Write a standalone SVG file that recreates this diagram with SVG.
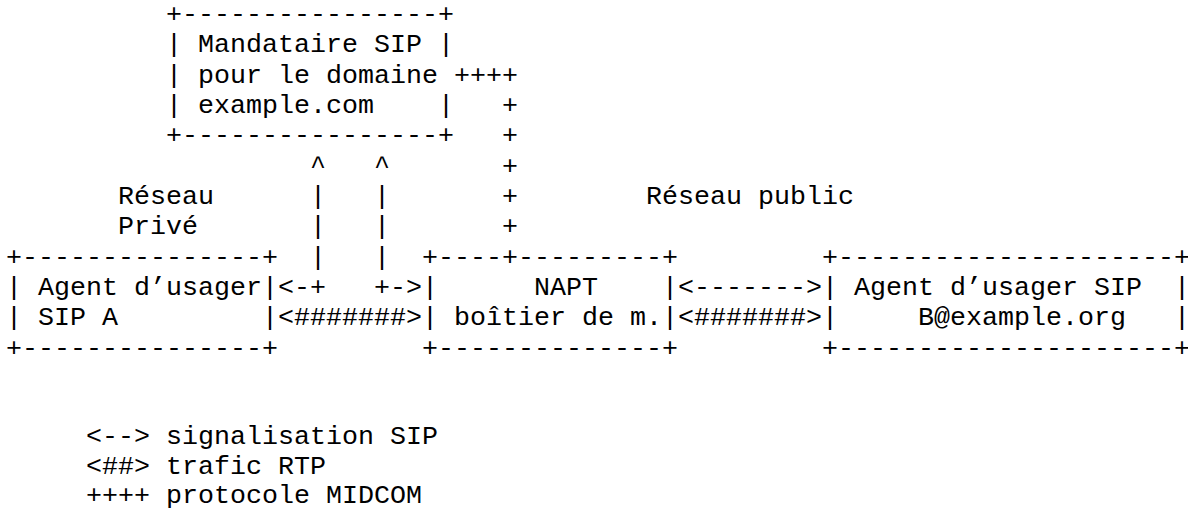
<svg xmlns="http://www.w3.org/2000/svg" width="1188" height="509" viewBox="0 0 1188 509" xml:space="preserve">
<style>
text { font-family: "Liberation Mono", "Courier New", monospace; font-size: 26.67px; fill: #000; white-space: pre; }
</style>
<rect width="1188" height="509" fill="#fff"/>
<g id="proxy">
<text x="166" y="22">+----------------+</text>
<text x="166" y="52.3">| Mandataire SIP |</text>
<text x="166" y="82.7">| pour le domaine</text>
<text x="166" y="113">| example.com    |</text>
<text x="166" y="143.3">+----------------+</text>
</g>
<g id="ua-a">
<text x="6" y="264.6">+---------------+</text>
<text x="6" y="295">| Agent d’usager|</text>
<text x="6" y="325.3">| SIP A         |</text>
<text x="6" y="355.6">+---------------+</text>
</g>
<g id="napt">
<text x="422" y="264.6">+----+---------+</text>
<text x="422" y="295">|      NAPT    |</text>
<text x="422" y="325.3">| boîtier de m.|</text>
<text x="422" y="355.6">+--------------+</text>
</g>
<g id="ua-b">
<text x="822" y="264.6">+---------------------+</text>
<text x="822" y="295">| Agent d’usager SIP  |</text>
<text x="822" y="325.3">|     B@example.org   |</text>
<text x="822" y="355.6">+---------------------+</text>
</g>
<g id="connectors">
<text x="454" y="82.7">++++</text>
<text x="502" y="113">+</text>
<text x="502" y="143.3">+</text>
<text x="502" y="173.7">+</text>
<text x="502" y="204">+</text>
<text x="502" y="234.3">+</text>
<text x="310" y="173.7">^</text>
<text x="374" y="173.7">^</text>
<text x="310" y="204">|</text>
<text x="374" y="204">|</text>
<text x="310" y="234.3">|</text>
<text x="374" y="234.3">|</text>
<text x="310" y="264.6">|</text>
<text x="374" y="264.6">|</text>
<text x="278" y="295">&lt;-+</text>
<text x="374" y="295">+-&gt;</text>
<text x="278" y="325.3">&lt;#######&gt;</text>
<text x="678" y="295">&lt;-------&gt;</text>
<text x="678" y="325.3">&lt;#######&gt;</text>
</g>
<g id="labels">
<text x="118" y="204">Réseau</text>
<text x="118" y="234.3">Privé</text>
<text x="646" y="204">Réseau public</text>
</g>
<g id="legend">
<text x="86" y="443.5">&lt;--&gt; signalisation SIP</text>
<text x="86" y="473.5">&lt;##&gt; trafic RTP</text>
<text x="86" y="502.5">++++ protocole MIDCOM</text>
</g>
</svg>
